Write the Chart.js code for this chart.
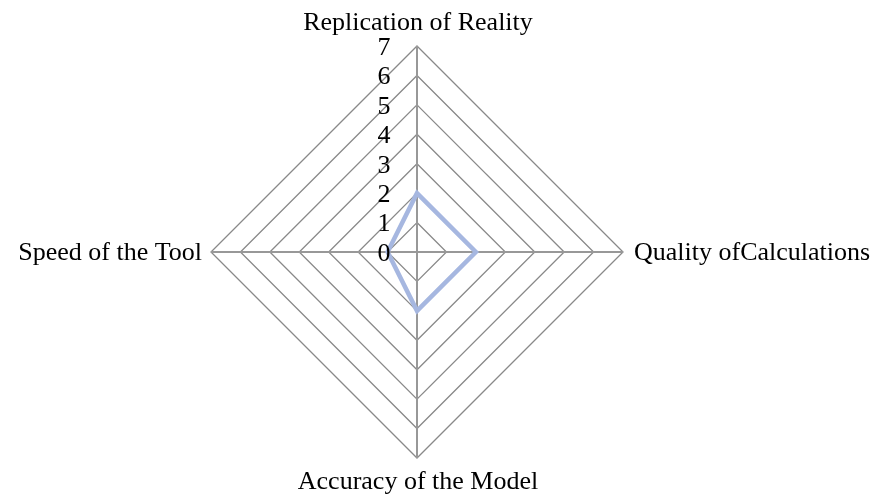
<!DOCTYPE html>
<html>
<head>
<meta charset="utf-8">
<script src="https://cdn.jsdelivr.net/npm/chart.js@4"></script>
<style>
  html, body { margin: 0; padding: 0; background: #ffffff; }
  #wrap { width: 878px; height: 495px; }
</style>
</head>
<body>
<div id="wrap"><canvas id="chart" width="878" height="495"></canvas></div>
<script>
const categories = ['Replication of Reality', 'Quality ofCalculations', 'Accuracy of the Model', 'Speed of the Tool'];
const scoreValues = [2, 2, 2, 1];
const tickValues = [0, 1, 2, 3, 4, 5, 6, 7];

const FONT = '26px "Liberation Serif", "Times New Roman", serif';

// draws the axis names and the tick numbers the way the original sheet does
const labelPlugin = {
  id: 'labelPlugin',
  afterDraw(chart) {
    const scale = chart.scales.r;
    const ctx = chart.ctx;
    const r = scale.drawingArea;
    ctx.save();
    ctx.font = FONT;
    ctx.fillStyle = '#000000';

    // category labels
    const top = scale.getPointPosition(0, r);
    ctx.textAlign = 'center';
    ctx.textBaseline = 'alphabetic';
    ctx.fillText(categories[0], top.x + 1, top.y - 16);

    const right = scale.getPointPosition(1, r);
    ctx.textAlign = 'left';
    ctx.textBaseline = 'middle';
    ctx.fillText(categories[1], right.x + 11, right.y + 1);

    const bottom = scale.getPointPosition(2, r);
    ctx.textAlign = 'center';
    ctx.textBaseline = 'alphabetic';
    ctx.fillText(categories[2], bottom.x + 1, bottom.y + 31);

    const left = scale.getPointPosition(3, r);
    ctx.textAlign = 'right';
    ctx.textBaseline = 'middle';
    ctx.fillText(categories[3], left.x - 9, left.y + 1);

    // tick numbers, left of the vertical axis
    ctx.textAlign = 'center';
    ctx.textBaseline = 'middle';
    tickValues.forEach(v => {
      const d = scale.getDistanceFromCenterForValue(v);
      ctx.fillText(String(v), scale.xCenter - 33, scale.yCenter - d + 2);
    });
    ctx.restore();
  }
};

new Chart(document.getElementById('chart').getContext('2d'), {
  type: 'radar',
  data: {
    labels: categories,
    datasets: [{
      label: 'Score',
      data: scoreValues,
      borderColor: '#A6B7E0',
      backgroundColor: 'rgba(0,0,0,0)',
      borderWidth: 4.5,
      pointRadius: 0,
      fill: false,
      tension: 0
    }]
  },
  options: {
    responsive: false,
    animation: false,
    layout: { padding: { left: 211, right: 255, top: 46, bottom: 37 } },
    plugins: {
      legend: { display: false },
      tooltip: { enabled: false }
    },
    scales: {
      r: {
        min: 0,
        max: 7,
        ticks: { stepSize: 1, display: false },
        pointLabels: { display: false },
        grid: { color: '#898989', lineWidth: 1.3 },
        angleLines: { color: '#989898', lineWidth: 2 }
      }
    }
  },
  plugins: [labelPlugin]
});
</script>
</body>
</html>
